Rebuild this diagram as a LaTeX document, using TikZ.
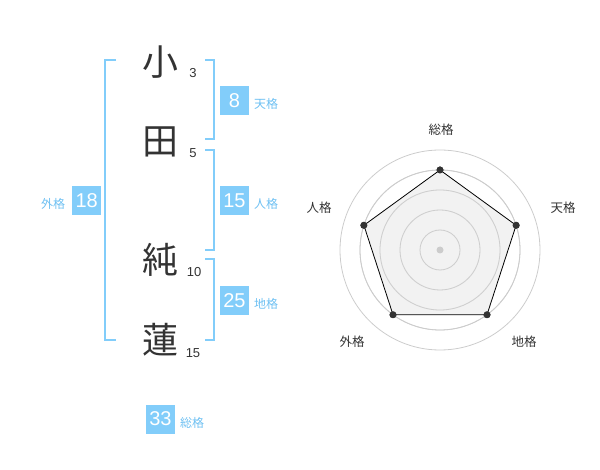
\documentclass[tikz,border=0pt]{standalone}
\usepackage{fontspec}
\setmainfont{Liberation Sans}
\newfontfamily\cjk{Noto Sans CJK JP}
\definecolor{sky}{HTML}{82CDFA}
\definecolor{skytxt}{HTML}{6EC0F2}
\definecolor{ink}{HTML}{333333}
\definecolor{ring}{HTML}{CCCCCC}
\definecolor{area}{HTML}{F0F0F0}
\tikzset{
  kanji/.style={inner sep=0pt, text=ink, font=\cjk\fontsize{36}{36}\selectfont},
  strokes/.style={inner sep=0pt, text=ink, font=\fontsize{13}{13}\selectfont},
  numbox/.style={fill=sky, text=white, minimum width=29pt, minimum height=29pt, inner sep=0pt, font=\fontsize{20}{20}\selectfont},
  kaku/.style={inner sep=0pt, text=skytxt, font=\cjk\fontsize{12}{12}\selectfont},
  bracket/.style={draw=sky, line width=2pt},
  radarlbl/.style={inner sep=0pt, text=ink, font=\cjk\fontsize{12.5}{12.5}\selectfont},
  ringline/.style={draw=ring, line width=0.8pt},
  vertex/.style={circle, fill=ink, inner sep=0pt, minimum size=7pt},
}
\begin{document}
\begin{tikzpicture}[x=1pt,y=-1pt]
\useasboundingbox (0,0) rectangle (600,470);
% kanji
\node[kanji] (k1) at (160,62) {小};
\node[kanji] (k2) at (160,142) {田};
\node[kanji] (k3) at (160,260) {純};
\node[kanji] (k4) at (160,340) {蓮};
\node[strokes] (s1) at (193,73) {3};
\node[strokes] (s2) at (193,153) {5};
\node[strokes] (s3) at (194,272) {10};
\node[strokes] (s4) at (193,353) {15};
% brackets
\draw[bracket] (116,60) -- (105,60) -- (105,340) -- (116,340);
\draw[bracket] (205,60) -- (214.3,60) -- (214.3,139.3) -- (205,139.3);
\draw[bracket] (205,150) -- (214.3,150) -- (214.3,250) -- (205,250);
\draw[bracket] (205,259.3) -- (214.3,259.3) -- (214.3,340) -- (205,340);
% boxes
\node[numbox] (ten) at (234.5,100.3) {8};
\node[kaku] (tenl) at (266,104) {天格};
\node[numbox] (jin) at (234.5,200.3) {15};
\node[kaku] (jinl) at (266,204) {人格};
\node[numbox] (chi) at (234.5,300.3) {25};
\node[kaku] (chil) at (266,304) {地格};
\node[numbox] (gai) at (86.7,200.3) {18};
\node[kaku] (gail) at (53,204) {外格};
\node[numbox] (sou) at (160.5,419) {33};
\node[kaku] (soul) at (192,423) {総格};
% radar
\coordinate (c) at (440,250);
\foreach \r in {20,40,60,80,100} \draw[ringline] (c) circle[radius=\r];
\node[vertex] (vs) at (440,170) {};
\node[vertex] (vt) at (516.1,225.3) {};
\node[vertex] (vc) at (487.0,314.7) {};
\node[vertex] (vg) at (393.0,314.7) {};
\node[vertex] (vj) at (363.9,225.3) {};
\fill[area, fill opacity=0.85] (vs.center) -- (vt.center) -- (vc.center) -- (vg.center) -- (vj.center) -- cycle;
\foreach \r in {20,40,60,80} \draw[ring, line width=0.8pt, opacity=0.9] (c) circle[radius=\r];
\draw[black, line width=0.8pt] (vs.center) -- (vt.center) -- (vc.center) -- (vg.center) -- (vj.center) -- cycle;
\node[vertex] at (vs) {};
\node[vertex] at (vt) {};
\node[vertex] at (vc) {};
\node[vertex] at (vg) {};
\node[vertex] at (vj) {};
\fill[ring] (c) circle[radius=3.5];
\node[radarlbl] (ls) at (441,130) {総格};
\node[radarlbl] (lt) at (563,208) {天格};
\node[radarlbl] (lj) at (319,208) {人格};
\node[radarlbl] (lg) at (352,342) {外格};
\node[radarlbl] (lc) at (524,342) {地格};
\end{tikzpicture}
\end{document}
